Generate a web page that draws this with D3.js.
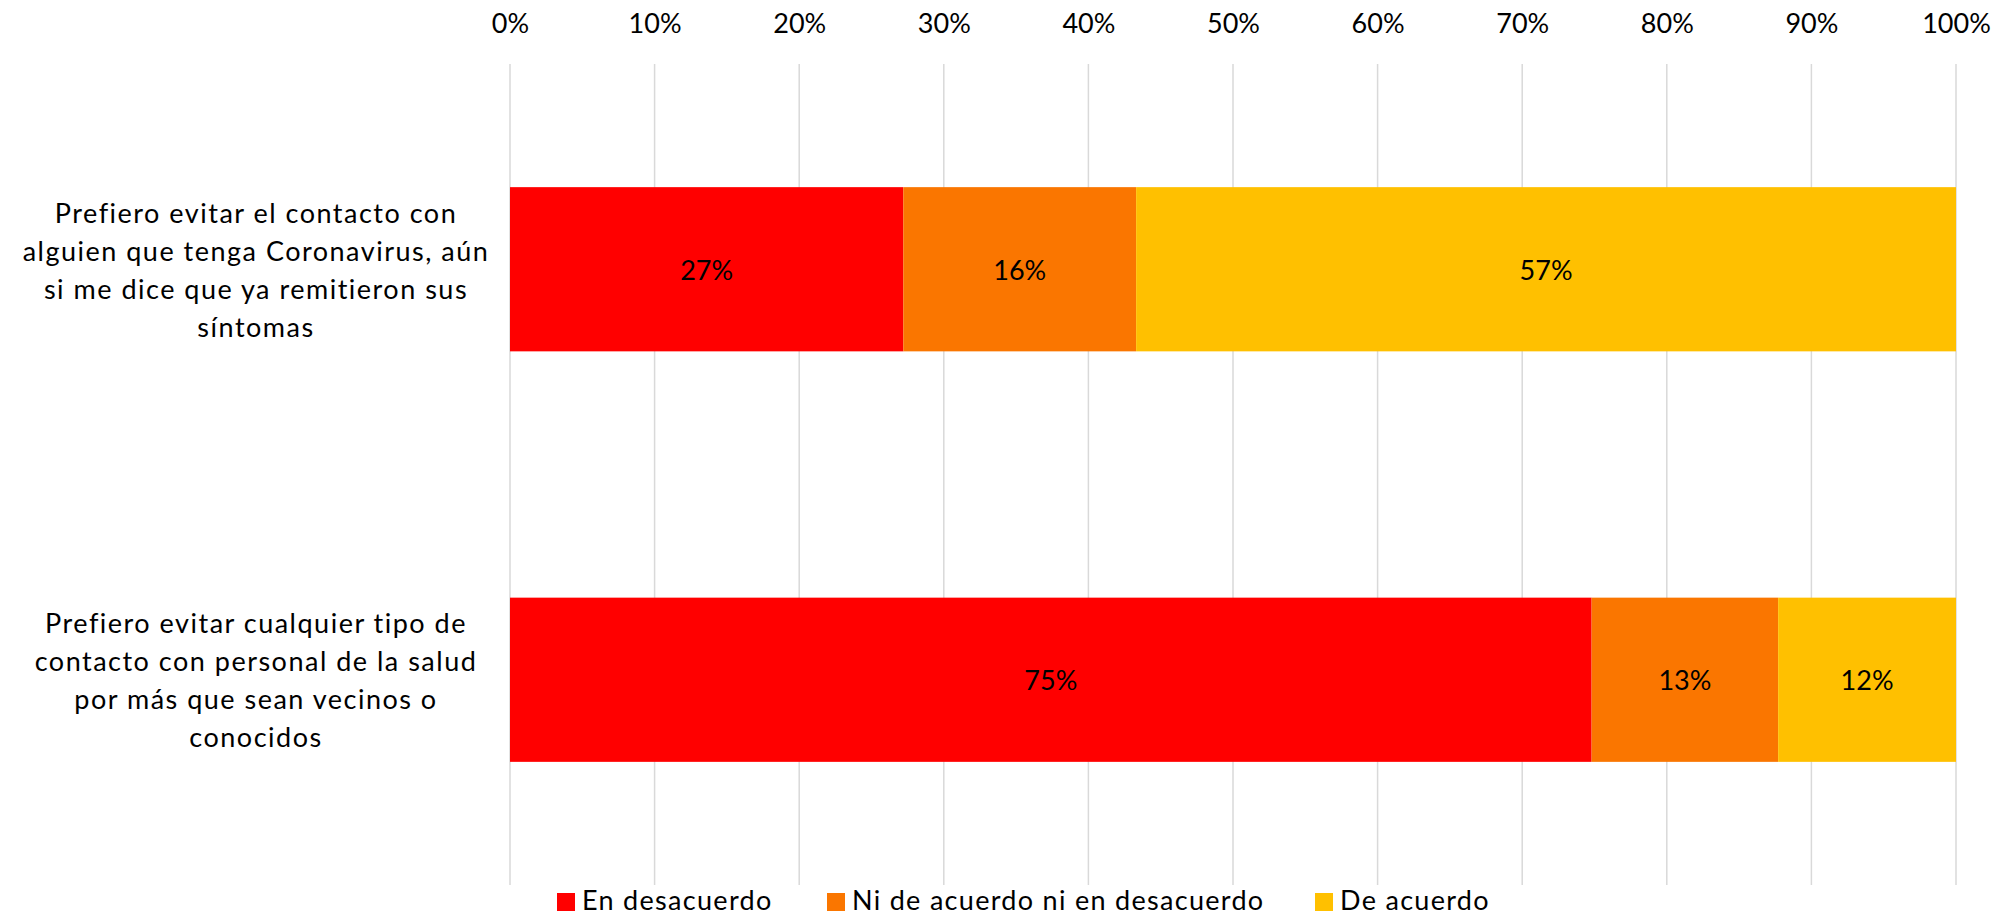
<!DOCTYPE html>
<html>
<head>
<meta charset="utf-8">
<script src="https://cdn.jsdelivr.net/npm/d3@7"></script>
<style>
  body { margin: 0; background: #fff; }
  svg text { font-family: Lato, "Open Sans", sans-serif; fill: #000; }
</style>
</head>
<body>
<div id="chart"></div>
<script>
// data
var categories = ["c1", "c2"];
var categoryLines = [
  ["Prefiero evitar el contacto con", "alguien que tenga Coronavirus, aún", "si me dice que ya remitieron sus", "síntomas"],
  ["Prefiero evitar cualquier tipo de", "contacto con personal de la salud", "por más que sean vecinos o", "conocidos"]
];
var seriesNames = ["En desacuerdo", "Ni de acuerdo ni en desacuerdo", "De acuerdo"];
var seriesColors = ["#FF0000", "#FA7600", "#FFC000"];
var enDesacuerdo = [27.2, 74.8];
var niNi = [16.1, 12.9];
var deAcuerdo = [56.7, 12.3];
var tickValues = [0, 10, 20, 30, 40, 50, 60, 70, 80, 90, 100];

var width = 2000, height = 916;
var fontSize = 27;

var svg = d3.select("#chart").append("svg")
  .attr("width", width).attr("height", height);

var x = d3.scaleLinear().domain([0, 100]).range([510, 1956]);
var y = d3.scaleBand().domain(categories).range([64, 885]).paddingInner(0.6).paddingOuter(0.3);

// gridlines
svg.append("g").selectAll("line")
  .data(tickValues).enter().append("line")
  .attr("x1", d => x(d)).attr("x2", d => x(d))
  .attr("y1", 64).attr("y2", 885)
  .style("stroke", "#D9D9D9").style("stroke-width", 1.5);

// top axis labels
var xAxis = d3.axisTop(x).tickValues(tickValues).tickFormat(d => d + "%").tickSize(0).tickPadding(0);
var ax = svg.append("g").attr("transform", "translate(0,33)").call(xAxis);
ax.select(".domain").remove();
ax.selectAll("text").style("font-size", fontSize + "px").style("font-family", "Lato, 'Open Sans', sans-serif").attr("fill", "#000");

// stacked data
var rows = categories.map((c, i) => ({ cat: c, vals: [enDesacuerdo[i], niNi[i], deAcuerdo[i]] }));
var stack = d3.stack().keys([0, 1, 2]).value((d, k) => d.vals[k]);
var stacked = stack(rows);

var layers = svg.append("g").selectAll("g")
  .data(stacked).enter().append("g")
  .style("fill", (d, i) => seriesColors[i]);

layers.selectAll("rect")
  .data(d => d).enter().append("rect")
  .attr("x", d => x(d[0]))
  .attr("width", d => x(d[1]) - x(d[0]))
  .attr("y", d => y(d.data.cat))
  .attr("height", y.bandwidth());

layers.selectAll("text")
  .data(d => d).enter().append("text")
  .attr("x", d => (x(d[0]) + x(d[1])) / 2)
  .attr("y", d => y(d.data.cat) + y.bandwidth() / 2)
  .attr("text-anchor", "middle")
  .attr("dominant-baseline", "central")
  .style("font-size", fontSize + "px")
  .text(d => Math.round(d[1] - d[0]) + "%");

// category labels
var lineH = 38;
var cats = svg.append("g").selectAll("text")
  .data(categories).enter().append("text")
  .attr("text-anchor", "middle")
  .style("font-size", fontSize + "px")
  .style("letter-spacing", "1.5px");
cats.each(function(c, i) {
  var lines = categoryLines[i];
  var cy = y(c) + y.bandwidth() / 2 - (lines.length - 1) * lineH / 2;
  d3.select(this).selectAll("tspan")
    .data(lines).enter().append("tspan")
    .attr("x", 256)
    .attr("y", (d, j) => cy + j * lineH)
    .attr("dominant-baseline", "central")
    .text(d => d);
});

// legend
var legend = svg.append("g");
var lx = [557, 827, 1315];
seriesNames.forEach(function(name, i) {
  legend.append("rect")
    .attr("x", lx[i]).attr("y", 893)
    .attr("width", 18).attr("height", 18)
    .style("fill", seriesColors[i]);
  legend.append("text")
    .attr("x", lx[i] + 25).attr("y", 899)
    .attr("dominant-baseline", "central")
    .style("font-size", fontSize + "px")
    .style("letter-spacing", "1.3px")
    .text(name);
});
</script>
</body>
</html>
